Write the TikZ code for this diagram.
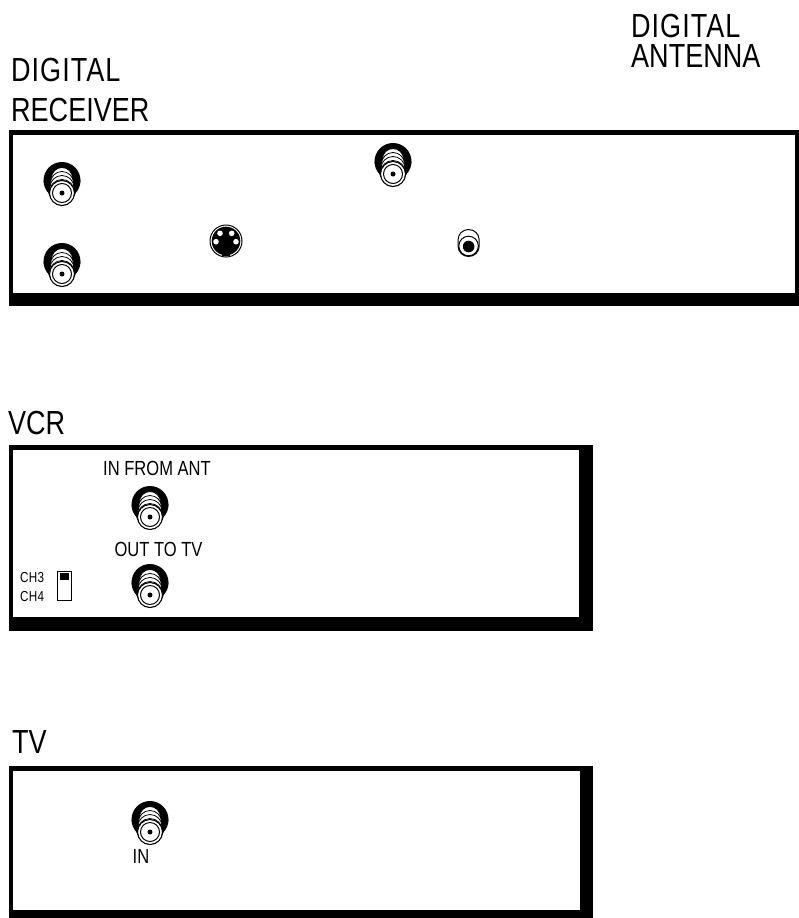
\documentclass[tikz,border=0pt]{standalone}
\usepackage{fontspec}
\setmainfont[FakeStretch=0.81]{Liberation Sans}
\tikzset{
  x=1bp,y=-1bp,
  lab/.style={inner sep=0pt,anchor=base west,font=\fontsize{33.5}{33.5}\selectfont},
  small/.style={inner sep=0pt,anchor=base,font=\fontsize{20.5}{20.5}\selectfont},
  tiny/.style={inner sep=0pt,anchor=base west,font=\fontsize{14.5}{14.5}\selectfont\addfontfeature{LetterSpace=2}},
  coax/.pic={
    \fill[black] (0,-12.5) circle[radius=18.5];
    \fill[black] (-18.5,-12.5) .. controls (-18.5,-6) and (-13.5,-2) .. (-12.5,3) -- (12.5,3) .. controls (13.5,-2) and (18.5,-6) .. (18.5,-12.5) -- cycle;
    \foreach \c/\r in {-15/10.5,-10/11.5,-5.5/12,-1/12.5}{
      \fill[white,draw=black,line width=0.8pt] (0,\c) circle[radius=\r];
    }
    \fill[white,draw=black,line width=1.1pt] (0,0) circle[radius=12.5];
    \draw[black,line width=1pt] (0,0) circle[radius=9.5];
    \fill[black] (0,0) circle[radius=2.5];
  }
}
\newcommand{\widedig}{\addfontfeature{LetterSpace=3}DIGITAL}
\begin{document}
\begin{tikzpicture}
\path[use as bounding box,fill=white] (0,0) rectangle (799,918);
% receiver
\fill[black] (9,130) rectangle (799,306);
\fill[white] (13,135) rectangle (795,293);
% vcr
\fill[black] (8.5,445) rectangle (592.5,631);
\fill[white] (13,450) rectangle (578.5,617);
% tv
\fill[black] (8.5,766) rectangle (593,918);
\fill[white] (13,771) rectangle (579.5,910);
\node[lab] (t1) at (11,81) {\widedig};
\node[lab] (t2) at (11,121) {RECEIVER};
\node[lab,align=left,font=\fontsize{33.5}{30}\selectfont,anchor=north west] (t3) at (631,14) {{\widedig}\\ANTENNA};
\node[lab] (t5) at (8,434) {VCR};
\node[lab] (t6) at (12,753) {TV};
\node[small] (in1) at (157,475) {IN FROM ANT};
\node[small] (out) at (158.5,556) {OUT TO TV};
\node[small] (in2) at (141,863) {IN};
\node[tiny] (ch3) at (20,582) {CH3};
\node[tiny] (ch4) at (20,601) {CH4};
\pic at (62,193) {coax};
\pic at (62,274) {coax};
\pic at (393,174) {coax};
\pic at (150,517) {coax};
\pic at (150,595) {coax};
\pic at (150,832) {coax};
% switch
\draw[black,line width=1pt] (57.5,571) rectangle (71.5,600.5);
\fill[black] (59.5,573) rectangle (69,579.5);
% S-video
\draw[black,line width=1pt,fill=white] (226,241) circle[radius=16];
\fill[black] (226,241) circle[radius=14.3];
\fill[black] (222.2,245) rectangle (229.8,256);
\fill[white] (220,233.3) circle[radius=2.8] (231.7,233.3) circle[radius=2.8] (216,241.7) circle[radius=2.8] (236,241.7) circle[radius=2.8];
% RCA
\draw[black,line width=1pt,rounded corners=10.5bp] (458,229.5) rectangle (479.2,256.5);
\draw[black,line width=1pt] (468.6,246) circle[radius=9.8];
\fill[black] (468.6,246.5) circle[radius=5.8];
\end{tikzpicture}
\end{document}
